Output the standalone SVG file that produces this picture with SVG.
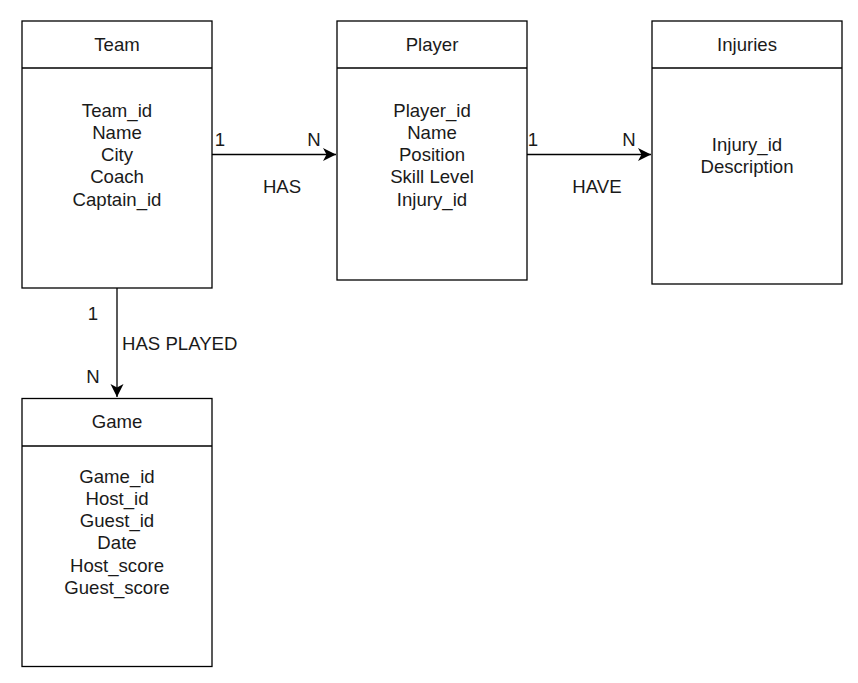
<svg xmlns="http://www.w3.org/2000/svg" width="858" height="683" viewBox="0 0 858 683">
<style>
.box{fill:#fff;stroke:#000;stroke-width:1.3}
.t{font-family:"Liberation Sans",Arial,sans-serif;font-size:18.6px;fill:#1a1a1a;text-anchor:middle}
.l{font-family:"Liberation Sans",Arial,sans-serif;font-size:18.6px;fill:#1a1a1a}
.edge{fill:none;stroke:#000;stroke-width:1.3}
</style>
<defs>
<marker id="arr" markerUnits="userSpaceOnUse" markerWidth="16" markerHeight="16" viewBox="-14 -8 16 16" refX="0" refY="0" orient="auto">
<path d="M0,0 L-13,-6.5 L-9.5,0 L-13,6.5 Z" fill="#000"/>
</marker>
</defs>
<rect width="858" height="683" fill="#fff"/>
<g id="connectors">
<path class="edge" d="M212,154.5 L336,154.5" marker-end="url(#arr)"/>
<path class="edge" d="M527,154.5 L651,154.5" marker-end="url(#arr)"/>
<path class="edge" d="M117,288 L117,397" marker-end="url(#arr)"/>
<text class="t" x="220" y="146">1</text>
<text class="t" x="314" y="146">N</text>
<text class="t" x="282" y="193">HAS</text>
<text class="t" x="533" y="146">1</text>
<text class="t" x="629" y="146">N</text>
<text class="t" x="597" y="193">HAVE</text>
<text class="t" x="93" y="320">1</text>
<text class="l" x="122" y="350">HAS PLAYED</text>
<text class="t" x="93" y="383">N</text>
</g>
<g id="team">
<rect class="box" x="22" y="21" width="190" height="267"/>
<line class="edge" x1="22" y1="68" x2="212" y2="68"/>
<text class="t" x="117" y="50.5">Team</text>
<text class="t" x="117" y="116.5">Team_id</text>
<text class="t" x="117" y="138.8">Name</text>
<text class="t" x="117" y="161.1">City</text>
<text class="t" x="117" y="183.4">Coach</text>
<text class="t" x="117" y="205.7">Captain_id</text>
</g>
<g id="player">
<rect class="box" x="337" y="21" width="190" height="259"/>
<line class="edge" x1="337" y1="68" x2="527" y2="68"/>
<text class="t" x="432" y="50.5">Player</text>
<text class="t" x="432" y="116.5">Player_id</text>
<text class="t" x="432" y="138.8">Name</text>
<text class="t" x="432" y="161.1">Position</text>
<text class="t" x="432" y="183.4">Skill Level</text>
<text class="t" x="432" y="205.7">Injury_id</text>
</g>
<g id="injuries">
<rect class="box" x="652" y="21" width="190" height="263"/>
<line class="edge" x1="652" y1="68" x2="842" y2="68"/>
<text class="t" x="747" y="50.5">Injuries</text>
<text class="t" x="747" y="150.5">Injury_id</text>
<text class="t" x="747" y="172.8">Description</text>
</g>
<g id="game">
<rect class="box" x="22" y="398.5" width="190" height="268"/>
<line class="edge" x1="22" y1="446" x2="212" y2="446"/>
<text class="t" x="117" y="428">Game</text>
<text class="t" x="117" y="482.5">Game_id</text>
<text class="t" x="117" y="504.8">Host_id</text>
<text class="t" x="117" y="527.1">Guest_id</text>
<text class="t" x="117" y="549.4">Date</text>
<text class="t" x="117" y="571.7">Host_score</text>
<text class="t" x="117" y="594">Guest_score</text>
</g>
</svg>
